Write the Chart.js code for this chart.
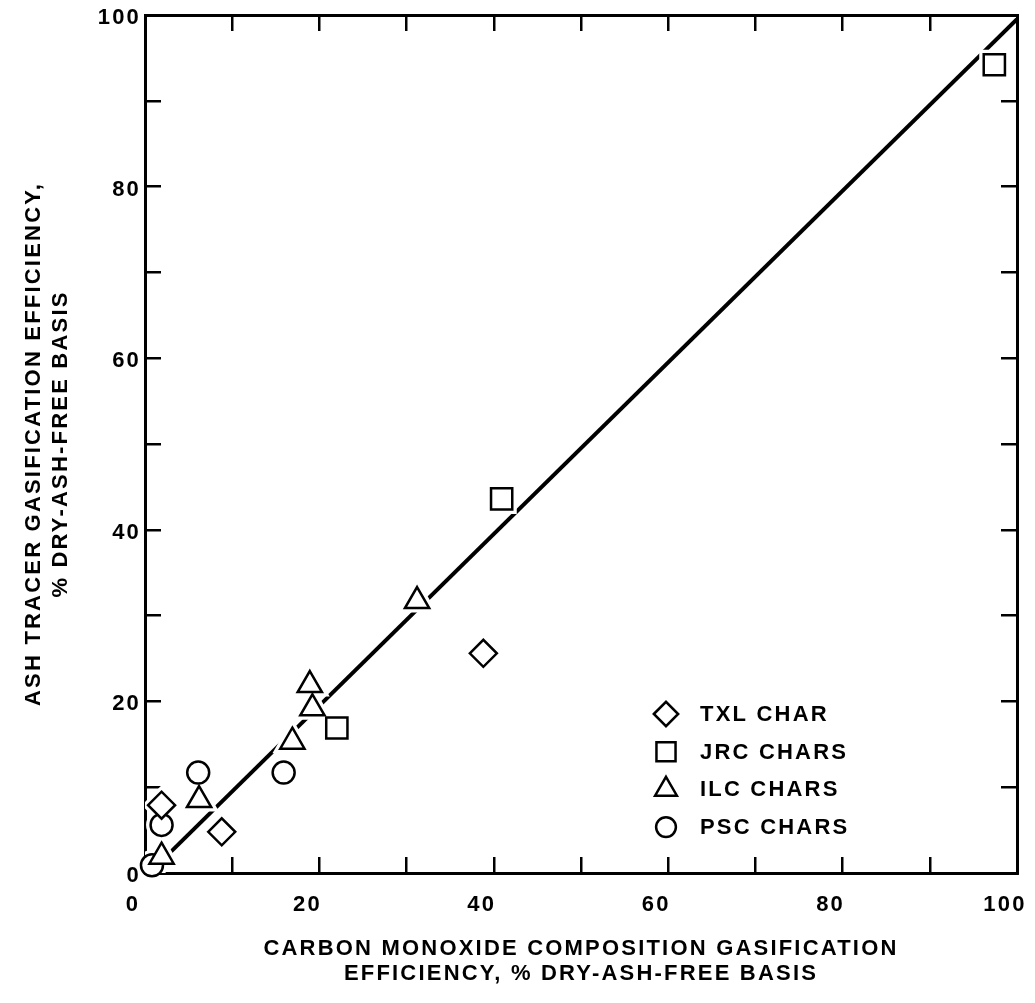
<!DOCTYPE html>
<html>
<head>
<meta charset="utf-8">
<script src="https://cdn.jsdelivr.net/npm/chart.js@4.4.1/dist/chart.umd.min.js"></script>
<style>
html, body { margin: 0; padding: 0; background: #fff; }
#wrap { width: 1035px; height: 1003px; position: relative; }
</style>
</head>
<body>
<div id="wrap"><canvas id="gasificationChart"></canvas></div>
<script>
// values: x = CO composition efficiency, y = ash tracer efficiency
var TXL_X = [1.9, 8.8, 38.8];
var TXL_Y = [7.9, 4.8, 25.6];

var JRC_X = [22.0, 40.9, 97.4];
var JRC_Y = [16.9, 43.6, 94.2];

var ILC_X = [1.9, 6.2, 16.9, 19.2, 18.9, 31.2];
var ILC_Y = [1.9, 8.5, 15.3, 19.2, 21.9, 31.7];

var PSC_X = [0.8, 1.9, 6.1, 15.9];
var PSC_Y = [0.9, 5.6, 11.7, 11.7];

// fitted line end points
var FIT_X = [1.5, 100];
var FIT_Y = [1.0, 99.5];

var SERIES_NAMES = ['TXL CHAR', 'JRC CHARS', 'ILC CHARS', 'PSC CHARS'];
var X_TICK_LABELS = [0, 20, 40, 60, 80, 100];
var Y_TICK_LABELS = [0, 20, 40, 60, 80, 100];

var FONT = '"Liberation Sans", Arial, sans-serif';
Chart.defaults.font.family = FONT;
Chart.defaults.color = '#000';

var MARKERS = [
	{ style: 'rectRot', radius: 13.5 },
	{ style: 'rect', radius: 15 },
	{ style: 'triangle', radius: 14 },
	{ style: 'circle', radius: 11 }
];

function toPoints(xs, ys) {
	return xs.map(function (x, i) {
		return { x: x, y: ys[i] };
	});
}

var seriesPoints = [
	toPoints(TXL_X, TXL_Y),
	toPoints(JRC_X, JRC_Y),
	toPoints(ILC_X, ILC_Y),
	toPoints(PSC_X, PSC_Y)
];

var datasets = [];

// markers on top, white halo underneath them to break the line
seriesPoints.forEach(function (pts, i) {
	datasets.push({
		label: SERIES_NAMES[i],
		data: pts,
		order: 0,
		clip: false,
		pointStyle: MARKERS[i].style,
		pointRadius: MARKERS[i].radius,
		pointBackgroundColor: '#fff',
		pointBorderColor: '#000',
		pointBorderWidth: 2.5
	});
	datasets.push({
		label: '',
		data: pts,
		order: 1,
		clip: 0,
		pointStyle: MARKERS[i].style,
		pointRadius: MARKERS[i].radius,
		pointBackgroundColor: '#fff',
		pointBorderColor: '#fff',
		pointBorderWidth: 9
	});
});

datasets.push({
	label: '',
	data: toPoints(FIT_X, FIT_Y),
	order: 2,
	showLine: true,
	pointRadius: 0,
	borderColor: '#000',
	borderWidth: 4,
	fill: false
});

var frameGrid = {
	drawOnChartArea: false,
	drawTicks: true,
	tickLength: -16,
	lineWidth: 2.5,
	color: '#000'
};

var frameBorder = {
	display: true,
	width: 3,
	color: '#000'
};

// fixed box sizes, and no extra room for overhanging labels
function fixBox(w, h) {
	return function (scale) {
		if (w !== null) scale.width = w;
		if (h !== null) scale.height = h;
		scale.paddingLeft = 0;
		scale.paddingRight = 0;
		scale.paddingTop = 0;
		scale.paddingBottom = 0;
	};
}

var gasificationOptions = {
	responsive: true,
	maintainAspectRatio: false,
	animation: false,
	events: [],
	layout: {
		autoPadding: false,
		padding: { top: 15, right: 18, bottom: 0, left: 0 }
	},
	scales: {
		x: {
			type: 'linear',
			position: 'bottom',
			min: 0,
			max: 100,
			grid: frameGrid,
			border: frameBorder,
			ticks: {
				stepSize: 10,
				autoSkip: false,
				maxRotation: 0,
				padding: 35,
				labelOffset: -12,
				font: { size: 22, weight: 'bold' },
				callback: function (value) {
					return X_TICK_LABELS.indexOf(value) >= 0 ? String(value) : '';
				}
			},
			title: {
				display: true,
				text: ['CARBON MONOXIDE COMPOSITION GASIFICATION', 'EFFICIENCY, % DRY-ASH-FREE BASIS'],
				font: { size: 22, weight: 'bold', lineHeight: 1.15 },
				padding: { top: 0, bottom: 16 }
			},
			afterFit: fixBox(null, 130)
		},
		x2: {
			type: 'linear',
			position: 'top',
			min: 0,
			max: 100,
			grid: frameGrid,
			border: frameBorder,
			ticks: { stepSize: 10, display: false },
			afterFit: fixBox(null, 0)
		},
		y: {
			type: 'linear',
			position: 'left',
			min: 0,
			max: 100,
			grid: frameGrid,
			border: frameBorder,
			ticks: {
				stepSize: 10,
				autoSkip: false,
				padding: 20,
				labelOffset: 3,
				font: { size: 22, weight: 'bold' },
				callback: function (value) {
					return Y_TICK_LABELS.indexOf(value) >= 0 ? String(value) : '';
				}
			},
			title: {
				display: true,
				text: ['ASH TRACER GASIFICATION EFFICIENCY,', '% DRY-ASH-FREE BASIS'],
				font: { size: 22, weight: 'bold', lineHeight: 1.2 },
				padding: { top: 21, bottom: 0 }
			},
			afterFit: fixBox(145, null)
		},
		y2: {
			type: 'linear',
			position: 'right',
			min: 0,
			max: 100,
			grid: frameGrid,
			border: frameBorder,
			ticks: { stepSize: 10, display: false },
			afterFit: fixBox(0, null)
		}
	},
	plugins: {
		legend: { display: false },
		tooltip: { enabled: false },
		title: { display: false }
	}
};

// hand lettering on the original is widely spaced
var letterSpacingPlugin = {
	id: 'letterSpacing',
	beforeDraw: function (chart) {
		chart.ctx.letterSpacing = '2.2px';
	}
};

// legend sits inside the plot, lower right
var insideLegend = {
	id: 'insideLegend',
	afterDatasetsDraw: function (chart) {
		var ctx = chart.ctx;
		ctx.save();
		ctx.font = 'bold 22px ' + FONT;
		ctx.textBaseline = 'middle';
		ctx.textAlign = 'left';
		SERIES_NAMES.forEach(function (name, i) {
			var y = 714 + i * 37.7;
			ctx.fillStyle = '#fff';
			ctx.strokeStyle = '#000';
			ctx.lineWidth = 2.5;
			Chart.helpers.drawPoint(ctx, {
				pointStyle: MARKERS[i].style,
				radius: MARKERS[i].radius * 0.9,
				borderWidth: 2.5,
				rotation: 0
			}, 666, y);
			ctx.fillStyle = '#000';
			ctx.fillText(name, 700, y + 1);
		});
		ctx.restore();
	}
};

var gasificationCtx = document.getElementById('gasificationChart');

var gasificationChart = new Chart(gasificationCtx, {
	type: 'scatter',
	data: { datasets: datasets },
	options: gasificationOptions,
	plugins: [letterSpacingPlugin, insideLegend]
});
</script>
</body>
</html>
